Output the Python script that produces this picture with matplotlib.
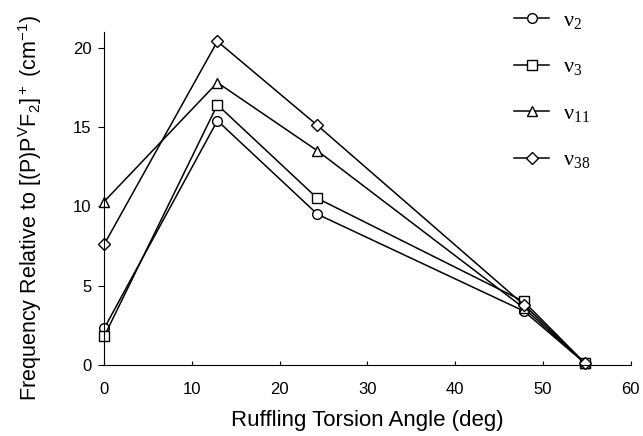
import matplotlib.pyplot as plt

# Ruffling torsion angle (deg) and frequency shifts (cm-1)
angle = [0, 12.9, 24.3, 47.8, 54.8]
nu2 = [2.3, 15.4, 9.5, 3.4, 0.1]
nu3 = [1.8, 16.4, 10.5, 4.0, 0.1]
nu11 = [10.3, 17.8, 13.5, 3.6, 0.1]
nu38 = [7.6, 20.4, 15.1, 3.8, 0.1]

series = [(nu2, 'o', '2'), (nu3, 's', '3'), (nu11, '^', '11'), (nu38, 'D', '38')]
sizes = {'o': 7, 's': 7, '^': 7.5, 'D': 6}

plt.rcParams['font.family'] = ['Liberation Sans', 'DejaVu Sans']

fig = plt.figure(figsize=(6.43, 4.36), dpi=100)
ax = fig.add_axes([0.162, 0.163, 0.819, 0.764])

for vals, mk, sub in series:
    ax.plot(angle, vals, color='black', lw=1.1, marker=mk, ms=sizes[mk],
            mfc='white', mec='black', mew=1.0, clip_on=False,
            label=r'$\mathregular{\nu_{%s}}$' % sub)

ax.set_xlim(0, 60)
ax.set_ylim(0, 21)
ax.set_xticks([0, 10, 20, 30, 40, 50, 60])
ax.set_yticks([0, 5, 10, 15, 20])
ax.spines['top'].set_visible(False)
ax.spines['right'].set_visible(False)
ax.tick_params(axis='x', direction='in', length=3, labelsize=12, pad=12)
ax.tick_params(axis='y', direction='out', length=4, labelsize=12, pad=5)
ax.set_xlabel('Ruffling Torsion Angle (deg)', fontsize=16, labelpad=10)
ax.set_ylabel(r'Frequency Relative to [(P)P$\mathregular{^V}$F$\mathregular{_2}$]$\mathregular{^+}$ (cm$\mathregular{^{-1}}$)',
              fontsize=15.5)
ax.yaxis.set_label_coords(-0.115, 0.47)

leg = ax.legend(loc='upper left', bbox_to_anchor=(0.74, 1.125), frameon=False,
                handlelength=1.6, labelspacing=1.17, handletextpad=0.6,
                prop={'family': 'Liberation Serif', 'size': 16})

fig.savefig('out.png', dpi=100)
